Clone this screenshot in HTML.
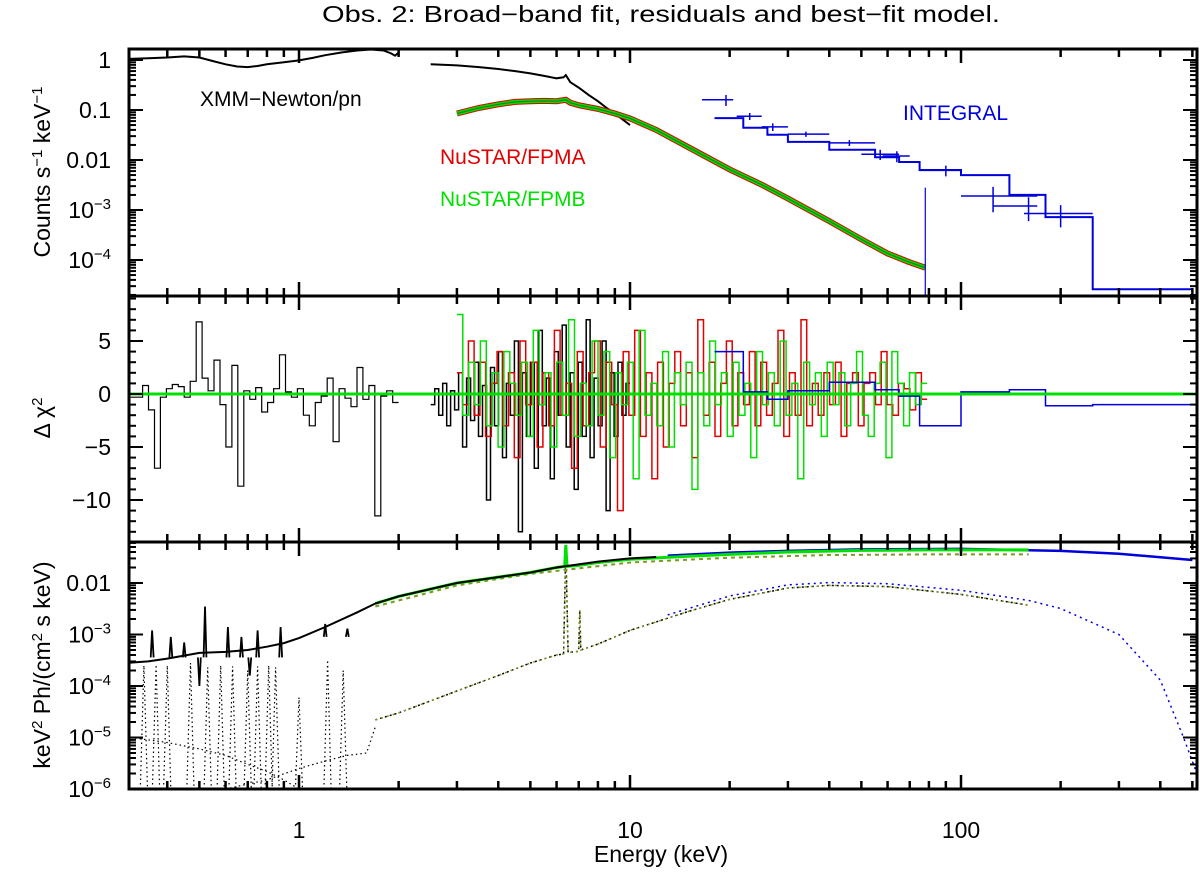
<!DOCTYPE html>
<html><head><meta charset="utf-8">
<style>
html,body{margin:0;padding:0;background:#fff;}
svg{display:block;font-family:"Liberation Sans",Arial,sans-serif;}
</style></head>
<body>
<svg id="chart" width="1200" height="876" viewBox="0 0 1200 876" xmlns="http://www.w3.org/2000/svg">
<text x="661" y="22" font-size="23" text-anchor="middle" textLength="678" lengthAdjust="spacingAndGlyphs">Obs. 2: Broad−band fit, residuals and best−fit model.</text>
<g id="plots"></g>
<text x="661" y="862" font-size="23" text-anchor="middle">Energy (keV)</text>
<text transform="translate(50,172) rotate(-90)" font-size="23" text-anchor="middle">Counts s<tspan dy="-8" font-size="15">−1</tspan><tspan dy="8"> keV</tspan><tspan dy="-8" font-size="15">−1</tspan></text>
<text transform="translate(50,418) rotate(-90)" font-size="23" text-anchor="middle">Δ χ<tspan dy="-8" font-size="15">2</tspan></text>
<text transform="translate(50,665) rotate(-90)" font-size="23" text-anchor="middle">keV<tspan dy="-8" font-size="15">2</tspan><tspan dy="8"> Ph/(cm</tspan><tspan dy="-8" font-size="15">2</tspan><tspan dy="8"> s keV)</tspan></text>
<text x="200" y="106" font-size="21">XMM−Newton/pn</text>
<text x="440" y="164" font-size="21" fill="#e00000">NuSTAR/FPMA</text>
<text x="440" y="206" font-size="21" fill="#00e000">NuSTAR/FPMB</text>
<text x="903" y="120" font-size="21" fill="#0000dd">INTEGRAL</text>
</svg>
<script>
// ---------- data ----------
const xmmLoE = [0.3,0.35,0.4,0.45,0.5,0.55,0.6,0.65,0.7,0.75,0.8,0.9,1.0,1.1,1.2,1.35,1.5,1.65,1.8,1.9,1.95,2.0];
const xmmLoV = [1.05,1.08,1.12,1.18,1.12,0.95,0.82,0.74,0.72,0.76,0.82,0.9,0.98,1.1,1.25,1.42,1.55,1.62,1.55,1.35,1.22,1.4];
const xmmHiE = [2.5,3,3.5,4,4.5,5,5.5,6,6.3,6.4,6.6,7,7.5,8,8.5,9,9.5,10];
const xmmHiV = [0.82,0.78,0.72,0.66,0.6,0.54,0.48,0.43,0.45,0.5,0.36,0.28,0.2,0.15,0.11,0.085,0.065,0.05];
const nuE = [3,3.5,4,4.5,5,5.5,6,6.4,6.6,7,8,9,10,12,15,20,25,30,40,50,60,70,78];
const nuV = [0.085,0.11,0.13,0.145,0.15,0.152,0.15,0.16,0.14,0.125,0.105,0.085,0.068,0.04,0.018,0.0065,0.0032,0.0017,6e-4,2.6e-4,1.35e-4,9e-5,7e-5];
const intEdges = [18,22,26,30,40,55,65,75,100,140,180,250,500];
const intModel = [0.069,0.044,0.032,0.023,0.016,0.0114,0.0091,0.0063,0.005,0.002,7.2e-4,2.6e-5];
const intPtE = [19.5,23,27,34,46,57,64,90,125,160,200];
const intPtV = [0.16,0.075,0.046,0.033,0.022,0.013,0.012,0.0062,0.0019,0.0012,8.5e-4];
const intPtLo = [16.5,21,25,30,40,50,58,75,100,125,155];
const intPtHi = [20.5,25,30,40,55,65,70,100,170,170,250];
const intPtErr = [0.04,0.012,0.008,0.004,0.003,0.003,0.003,0.0015,0.001,0.0006,0.0004];
// residuals
const resXmmLo = [-0.3,-0.3,0.8,-1.5,-7,-0.3,0.5,0.9,0.7,-0.3,1.2,6.8,1.5,0.3,3.2,-1,-5,2.7,-8.7,0.3,-0.5,0.6,-1.7,-0.8,0.5,3.7,0.2,-0.3,0.5,-2,-3,-0.8,-0.2,1.5,-4.5,0.5,-0.4,-1.2,2.5,-0.5,0.8,-11.5,-0.2,0.3,-0.8];
const resXmmHi = [-1,0.5,-2,1,-3,0.3,-1.5,2,-5,1.5,-2.5,3,-4,0.8,-10,2.5,-3,4,-6,1,-2,5,-13,2,-4,3,-7,6,-3,1.5,-8,4,-2,6.5,-5,2,-9,3,-4,7,-6,1.5,-3,5,-11,2,-4,3,-2,1];
const resRed = [2,-1,5,-2,3,-4,1,4,-3,2,-6,5,-1,3,-5,2,-3,6,-2,1,-7,4,-3,2,5,-5,3,-1,-11,4,-2,6,-4,2,-8,3,-5,1,4,-3,2,-6,7,-2,3,-4,1,5,-3,2,-1,4,-3,3,-2,1,6,-4,2,-2,7,-3,1,-2,2,-1,3,-4,1,2,-3,1,2,-1,4,-1,-2,1,0.5,-1.5,2,-0.5];
const resGreen = [7.5,-2,3,-1,5,-3,2,-5,4,1,-2,3,-4,6,-1,2,-5,3,-2,7,-4,1,-3,5,-2,4,-6,2,-1,3,-8,6,-2,1,-3,4,-5,2,-1,3,-9,2,-3,5,-1,2,-4,3,-2,1,-6,4,-1,2,-3,5,-2,1,-8,3,-1,2,-4,3,-1,2,-3,1,4,-2,-4,1,3,-6,4,1,-3,2,-1,1];
const resInt = [4,0.2,-0.5,0.3,1.1,0.4,-0.2,-3,0.2,0.4,-1.1,-1];
// unfolded model
const totE = [0.3,0.35,0.4,0.5,0.6,0.7,0.8,0.9,1.0,1.2,1.5,1.7,2,3,4,5,6,8,10,12];
const totV = [2.8e-4,3e-4,3.4e-4,4.4e-4,4.6e-4,5e-4,5.8e-4,6.8e-4,8.5e-4,1.4e-3,2.7e-3,4e-3,5.5e-3,0.01,0.013,0.016,0.02,0.026,0.03,0.032];
const lineE = [0.36,0.41,0.45,0.5,0.52,0.61,0.67,0.71,0.75,0.88,1.2,1.4];
const lineV = [1.2e-3,9e-4,7e-4,1e-4,3.5e-3,1.4e-3,9e-4,1.6e-4,1.2e-3,1.4e-3,1.6e-3,1.3e-3];
const nuTotE = [1.7,2,3,4,5,6,6.35,6.4,6.45,7,8,10,15,20,30,50,80,120,160];
const nuTotV = [4e-3,5.5e-3,0.01,0.013,0.016,0.02,0.021,0.055,0.021,0.022,0.025,0.029,0.033,0.036,0.04,0.043,0.044,0.044,0.044];
const intTotE = [13,20,30,50,100,200,300,500];
const intTotV = [0.034,0.039,0.042,0.045,0.046,0.042,0.037,0.028];
const plE = [1.7,3,5,10,20,40,80,160];
const plV = [3.5e-3,9e-3,0.015,0.025,0.031,0.035,0.036,0.036];
const reflE = [1.7,2,3,4,5,6,6.3,6.4,6.5,7,7.05,7.1,8,10,15,20,30,40,60,100,160];
const reflV = [2.2e-5,3e-5,8e-5,1.6e-4,2.8e-4,4e-4,4.2e-4,0.05,4.5e-4,4.7e-4,3e-3,5e-4,6.5e-4,1.2e-3,2.8e-3,4.8e-3,8e-3,9e-3,8.5e-3,6e-3,3.7e-3];
const reflIntE = [13,20,30,40,60,100,160,200,300,400,470,516];
const reflIntV = [2.4e-3,5.6e-3,9.2e-3,1.02e-2,9.7e-3,7.2e-3,4.6e-3,3.2e-3,1e-3,1.3e-4,1e-5,2e-6];
const softLineE = [0.34,0.37,0.4,0.47,0.53,0.58,0.63,0.7,0.75,0.81,0.85,1.0,1.22,1.36];
const softLineV = [2.5e-4,2.6e-4,2.5e-4,2.8e-4,2.3e-4,2.5e-4,2.4e-4,2e-4,2.4e-4,2.5e-4,2.3e-4,6e-5,3.2e-4,2e-4];
const bbE = [0.31,0.4,0.5,0.6,0.7,0.8,0.9,1.0];
const bbV = [1e-5,8e-6,6e-6,4.5e-6,3e-6,2.2e-6,1.5e-6,1e-6];
const riseE = [0.6,0.8,1.0,1.2,1.4,1.6,1.7];
const riseV = [1e-6,1.5e-6,2.5e-6,3.5e-6,4.5e-6,5e-6,1.6e-5];

// ---------- axes ----------
const NS='http://www.w3.org/2000/svg';
const L=129,R=1197;
const X=e=>299+331*Math.log10(e);
const P1={t:49,b:296}, P2={t:296,b:542}, P3={t:542,b:789};
const Y1=v=>60-50*Math.log10(v);
const Y2=v=>394-10.6*v;
const Y3=v=>583-51.5*(Math.log10(v)+2);
const root=document.getElementById('plots');
function mk(tag,attrs,parent){const el=document.createElementNS(NS,tag);for(const k in attrs)el.setAttribute(k,attrs[k]);(parent||root).appendChild(el);return el;}
function clip(id,p){const d=mk('defs',{});const c=mk('clipPath',{id:id},d);mk('rect',{x:L,y:p.t,width:R-L,height:p.b-p.t},c);}
clip('c1',P1);clip('c2',P2);clip('c3',P3);
function poly(E,V,fx,fy,attrs,g){const pts=E.map((e,i)=>fx(e).toFixed(1)+','+fy(V[i]).toFixed(1)).join(' ');return mk('polyline',Object.assign({points:pts,fill:'none'},attrs),g);}
function steps(edges,V,fy,attrs,g){let d='';for(let i=0;i<V.length;i++){const x0=X(edges[i]),x1=X(edges[i+1]),y=fy(V[i]);d+=(i?'L':'M')+x0.toFixed(1)+','+y.toFixed(1)+'L'+x1.toFixed(1)+','+y.toFixed(1);}return mk('path',Object.assign({d:d,fill:'none'},attrs),g);}
function logEdges(a,b,n){const r=[];for(let i=0;i<=n;i++)r.push(a*Math.pow(b/a,i/n));return r;}

// panel 1
const g1=mk('g',{'clip-path':'url(#c1)'});


const s1=poly(xmmLoE,xmmLoV,X,Y1,{stroke:'#000','stroke-width':2},g1);


const s2=poly(xmmHiE,xmmHiV,X,Y1,{stroke:'#000','stroke-width':2},g1);


const s3=poly(nuE,nuV,X,Y1,{stroke:'#e00000','stroke-width':6},g1);


const s4=poly(nuE,nuV,X,Y1,{stroke:'#00e000','stroke-width':4},g1);


const s4b=poly(nuE,nuV,X,Y1,{stroke:'#208020','stroke-width':1.2},g1);


const s5=steps(intEdges,intModel,Y1,{stroke:'#0000dd','stroke-width':2},g1);


for(let i=0;i<intPtE.length;i++){
  const x=X(intPtE[i]),y=Y1(intPtV[i]);
  const p=mk('path',{d:`M${X(intPtLo[i])},${y}H${X(intPtHi[i])}M${x},${Y1(intPtV[i]+intPtErr[i])}V${Y1(Math.max(intPtV[i]-intPtErr[i],1e-6))}`,stroke:'#0000dd','stroke-width':1.5,fill:'none'},g1);
  
  
}
mk('line',{x1:X(78),y1:Y1(0.0028),x2:X(78),y2:296,stroke:'#0000dd','stroke-width':1.2},g1);

// panel 2
const g2=mk('g',{'clip-path':'url(#c2)'});


const r1=steps(logEdges(0.31,2.0,resXmmLo.length),resXmmLo,Y2,{stroke:'#000','stroke-width':1.2},g2);


const r2=steps(logEdges(2.5,10,resXmmHi.length),resXmmHi,Y2,{stroke:'#000','stroke-width':1.5},g2);


const r3=steps(logEdges(3,79,resRed.length),resRed,Y2,{stroke:'#e00000','stroke-width':1.5},g2);


const r4=steps(logEdges(3,79,resGreen.length),resGreen,Y2,{stroke:'#00e000','stroke-width':1.5},g2);


const r5=steps(intEdges,resInt,Y2,{stroke:'#0000dd','stroke-width':1.5},g2);


const z=mk('line',{x1:L,x2:R,y1:Y2(0),y2:Y2(0),stroke:'#00e000','stroke-width':3},g2);



// panel 3
const g3=mk('g',{'clip-path':'url(#c3)'});


for(let i=0;i<softLineE.length;i++){
  const e=softLineE[i];
  const p=poly([e*0.975,e,e*1.025],[1e-6,softLineV[i],1e-6],X,Y3,{stroke:'#000','stroke-width':1.2,'stroke-dasharray':'1.5,3'},g3);
  
  
}
const bb=poly(bbE,bbV,X,Y3,{stroke:'#000','stroke-width':1.2,'stroke-dasharray':'1.5,3'},g3);


const ri=poly(riseE,riseV,X,Y3,{stroke:'#000','stroke-width':1.2,'stroke-dasharray':'1.5,3'},g3);


const rf=poly(reflE,reflV,X,Y3,{stroke:'#000','stroke-width':1.5,'stroke-dasharray':'2,3'},g3);


const rfg=poly(reflE,reflV,X,Y3,{stroke:'#7a9a20','stroke-width':1.5,'stroke-dasharray':'2,4'},g3);


const rfb=poly(reflIntE,reflIntV,X,Y3,{stroke:'#0000dd','stroke-width':1.5,'stroke-dasharray':'2,4'},g3);


const pl=poly(plE,plV,X,Y3,{stroke:'#7a9a20','stroke-width':2,'stroke-dasharray':'4,4'},g3);


const tb=poly(intTotE,intTotV,X,Y3,{stroke:'#0000dd','stroke-width':2.5},g3);


const tg=poly(nuTotE,nuTotV,X,Y3,{stroke:'#00e000','stroke-width':3},g3);


const tk=poly(totE,totV,X,Y3,{stroke:'#000','stroke-width':2},g3);


for(let i=0;i<lineE.length;i++){
  const e=lineE[i];
  const base=3.6e-4*(e<0.9?1:2.5);
  const p=poly([e*0.99,e,e*1.01],[base,lineV[i],base],X,Y3,{stroke:'#000','stroke-width':1.8},g3);
  
  
}

// frames & ticks
const axG=mk('g',{});


function xTicks(y,dir){
  for(let d=-1;d<=2;d++)for(let m=1;m<=9;m++){const e=m*Math.pow(10,d);const x=X(e);if(x<L||x>R)continue;const len=m===1?14:8;mk('line',{x1:x,x2:x,y1:y,y2:y+dir*len,stroke:'#000','stroke-width':2.5},axG);if(m===1){}}
}
function logYTicks(fy,lo,hi,top,bot){
  for(let d=lo;d<=hi;d++)for(let m=1;m<=9;m++){const y=fy(m*Math.pow(10,d));if(y<top||y>bot)continue;const len=m===1?14:7;
    mk('line',{x1:L,x2:L+len,y1:y,y2:y,stroke:'#000','stroke-width':2},axG);
    mk('line',{x1:R,x2:R-len,y1:y,y2:y,stroke:'#000','stroke-width':2},axG);}
}
[P1,P2,P3].forEach(p=>{mk('rect',{x:L,y:p.t,width:R-L,height:p.b-p.t,fill:'none',stroke:'#000','stroke-width':3},axG);xTicks(p.t,1);xTicks(p.b,-1);});
logYTicks(Y1,-5,0,P1.t,P1.b);
logYTicks(Y3,-6,-1,P3.t,P3.b);
for(let v=-14;v<=9;v++){const y=Y2(v);if(y<P2.t||y>P2.b)continue;const len=v%5===0?14:7;
  mk('line',{x1:L,x2:L+len,y1:y,y2:y,stroke:'#000','stroke-width':2},axG);
  mk('line',{x1:R,x2:R-len,y1:y,y2:y,stroke:'#000','stroke-width':2},axG);}

// tick labels
const xTickVals=[1,10,100];
const xTickText=['1','10','100'];
const y1Vals=[1,0.1,0.01,1e-3,1e-4];
const y1Text=['1','0.1','0.01','10|−3','10|−4'];
const y2Vals=[5,0,-5,-10];
const y2Text=['5','0','−5','−10'];
const y3Vals=[0.01,1e-3,1e-4,1e-5,1e-6];
const y3Text=['0.01','10|−3','10|−4','10|−5','10|−6'];
function ylab(txt,y,name){
  const t=mk('text',{x:111,y:y+8,'font-size':23,'text-anchor':'end'},axG);
  
  
  const parts=txt.split('|');
  t.textContent=parts[0];
  if(parts[1]){const s=mk('tspan',{dy:-9,'font-size':15},t);s.textContent=parts[1];}
}
y1Vals.forEach((v,i)=>ylab(y1Text[i],Y1(v),'y-tick-label-counts'));
y2Vals.forEach((v,i)=>ylab(y2Text[i],Y2(v),'y-tick-label-residual'));
y3Vals.forEach((v,i)=>ylab(y3Text[i],Y3(v),'y-tick-label-flux'));
xTickVals.forEach((v,i)=>{const t=mk('text',{x:X(v),y:838,'font-size':23,'text-anchor':'middle'},axG);
  
  
  t.textContent=xTickText[i];});
</script>
</body></html>
